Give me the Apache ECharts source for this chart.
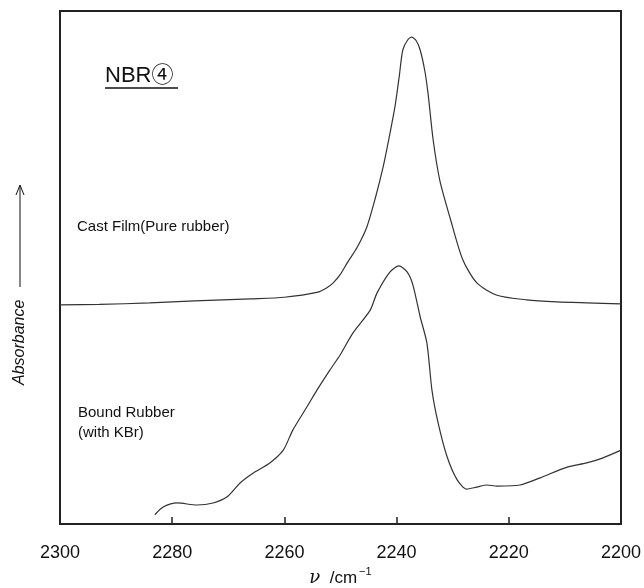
<!DOCTYPE html>
<html lang="en">
<head>
  <meta charset="UTF-8">
  <title>NBR4 IR spectrum</title>
  <script src="https://cdn.jsdelivr.net/npm/echarts@6/dist/echarts.min.js"></script>
</head>
<body style="margin:0;background:#fff;">
  <div id="main" style="width:644px;height:588px;"></div>
</body>
</html>
<script>
  // wavenumber (cm-1) and absorbance (arbitrary units)
  const castWn = [2300, 2293, 2284, 2276, 2266, 2260, 2254, 2252.5, 2251.3, 2250, 2248.8, 2247, 2245.3, 2243.8,
    2242.4, 2241.3, 2240.3, 2239.5, 2238.9, 2238, 2237.3, 2236.5, 2235.8, 2235, 2234.4, 2233.5, 2232.3, 2230.5,
    2228.2, 2225.7, 2222.1, 2216.8, 2211.4, 2206.1, 2200];
  const castAbs = [0.427, 0.428, 0.431, 0.435, 0.439, 0.442, 0.452, 0.460, 0.470, 0.487, 0.509, 0.540, 0.579, 0.635,
    0.696, 0.755, 0.813, 0.875, 0.924, 0.944, 0.949, 0.942, 0.924, 0.885, 0.840, 0.750, 0.670, 0.598,
    0.515, 0.470, 0.446, 0.437, 0.433, 0.431, 0.429];

  const boundWn = [2283.1, 2281.6, 2279.1, 2275.6, 2272.7, 2270.2, 2267.9, 2265.6, 2262.6, 2260.2, 2258.5, 2256.0,
    2254.2, 2251.9, 2250.1, 2247.8, 2244.7, 2243.5, 2241.2, 2239.6, 2238.1, 2237.1, 2235.8, 2234.6, 2233.7, 2232.6,
    2231.0, 2229.2, 2227.5, 2225.7, 2223.9, 2222.1, 2218.0, 2214.4, 2209.6, 2206.1, 2203.2, 2200];
  const boundAbs = [0.018, 0.033, 0.041, 0.037, 0.041, 0.053, 0.080, 0.099, 0.119, 0.144, 0.183, 0.228,
    0.261, 0.300, 0.329, 0.372, 0.417, 0.450, 0.491, 0.503, 0.491, 0.466, 0.404, 0.353, 0.261, 0.197,
    0.131, 0.086, 0.068, 0.072, 0.076, 0.074, 0.076, 0.090, 0.111, 0.119, 0.129, 0.144];

  const xTicks = [2300, 2280, 2260, 2240, 2220, 2200];

  initChart();

  function initChart() {
    const font = "'Liberation Sans', 'Noto Sans CJK JP', sans-serif";
    const ink = "#222";

    let castData = castWn.map((w, i) => [w, castAbs[i]]);
    let boundData = boundWn.map((w, i) => [w, boundAbs[i]]);

    let myChart = echarts.init(document.getElementById('main'));
    let option = {
      animation: false,
      grid: {
        left: 60,
        right: 23,
        top: 11,
        bottom: 64,
        containLabel: false,
        outerBoundsMode: 'none', // v6: don't squeeze the grid for the axis name
        show: true,
        borderColor: ink,
        borderWidth: 2,
      },
      xAxis: {
        type: 'value',
        inverse: true,
        min: xTicks[xTicks.length - 1],
        max: xTicks[0],
        interval: 20,
        axisLine: { show: true, lineStyle: { color: ink, width: 2 } },
        axisTick: { show: true, inside: true, length: 7, lineStyle: { color: ink, width: 1.5 } },
        splitLine: { show: false },
        axisLabel: {
          color: '#111',
          fontSize: 18,
          fontFamily: font,
          margin: 20,
          formatter: (v) => String(v),
        },
        name: '{nu|ν}{u|  /cm}{sup|−1}',
        nameLocation: 'middle',
        nameGap: 41,
        nameTextStyle: {
          rich: {
            nu: { fontSize: 18, fontStyle: 'italic', fontFamily: 'DejaVu Serif', color: '#111' },
            u: { fontSize: 17, fontFamily: font, color: '#111' },
            sup: { fontSize: 11, fontFamily: font, color: '#111', padding: [0, 0, 12, 2] },
          },
        },
      },
      yAxis: {
        type: 'value',
        min: 0,
        max: 1,
        axisLine: { show: false },
        axisTick: { show: false },
        axisLabel: { show: false },
        splitLine: { show: false },
      },
      graphic: [
        {
          type: 'text',
          left: 105,
          top: 65,
          style: { text: 'NBR④', font: '22px ' + font, fill: '#111' },
        },
        {
          type: 'line',
          shape: { x1: 105, y1: 88, x2: 178, y2: 88 },
          style: { stroke: '#111', lineWidth: 1.5 },
        },
        {
          type: 'text',
          left: 77,
          top: 219,
          style: { text: 'Cast Film(Pure rubber)', font: '15px ' + font, fill: '#111' },
        },
        {
          type: 'text',
          left: 78,
          top: 403,
          style: { text: 'Bound Rubber\n(with KBr)', font: '15px ' + font, fill: '#111', lineHeight: 20 },
        },
        {
          type: 'text',
          x: 12,
          y: 385,
          rotation: Math.PI / 2,
          style: { text: 'Absorbance', font: 'italic 16px ' + font, fill: '#111' },
        },
        {
          type: 'line',
          shape: { x1: 20, y1: 287, x2: 20, y2: 186 },
          style: { stroke: '#111', lineWidth: 1 },
        },
        {
          type: 'polyline',
          shape: { points: [[16, 195], [20, 185], [24, 195]] },
          style: { stroke: '#111', lineWidth: 1, fill: null },
        },
      ],
      series: [
        {
          name: 'Cast Film',
          type: 'line',
          data: castData,
          showSymbol: false,
          smooth: 0.25,
          lineStyle: { color: '#333', width: 1.2 },
        },
        {
          name: 'Bound Rubber',
          type: 'line',
          data: boundData,
          showSymbol: false,
          smooth: 0.25,
          lineStyle: { color: '#333', width: 1.2 },
        },
      ],
    };
    myChart.setOption(option, true);
  }
</script>
